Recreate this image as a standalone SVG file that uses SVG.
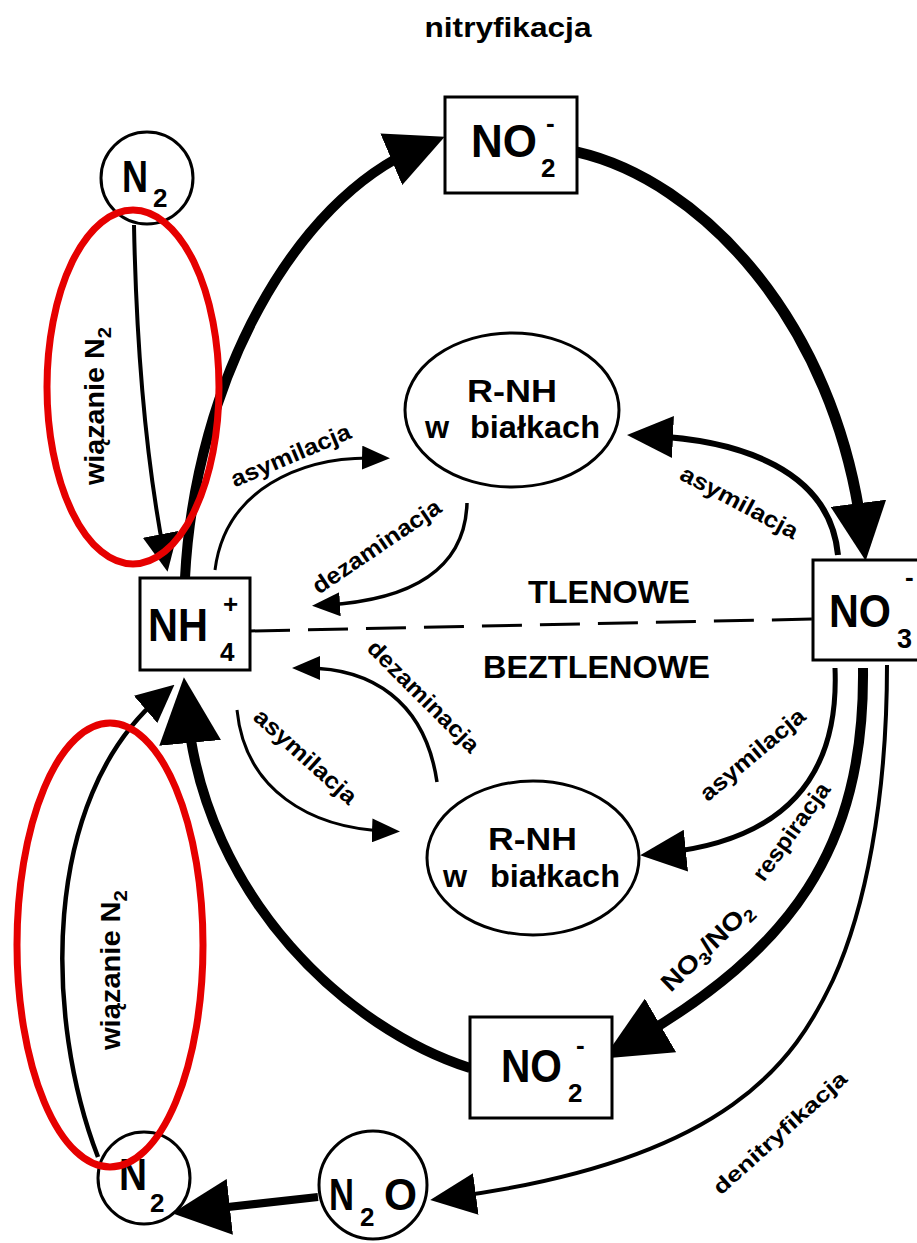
<svg xmlns="http://www.w3.org/2000/svg" width="917" height="1243" viewBox="0 0 917 1243">
<style>
.node{fill:#fff;stroke:#000;stroke-width:3}
.chem{font-family:"Liberation Sans",Arial,sans-serif;font-weight:bold;font-size:46px;fill:#000}
.sub{font-size:26px}
.prot{font-family:"Liberation Sans",Arial,sans-serif;font-weight:bold;font-size:31px;fill:#000}
.zone{font-family:"Liberation Sans",Arial,sans-serif;font-weight:bold;font-size:31px;fill:#000}
.lbl{font-family:"Liberation Sans",Arial,sans-serif;font-weight:bold;font-size:23px;fill:#000;text-anchor:middle}
.c{fill:none;stroke:#000}
.red{fill:none;stroke:#e60000;stroke-width:7}
</style>
<defs>
<marker id="mA" markerUnits="userSpaceOnUse" markerWidth="66" markerHeight="62" viewBox="0 0 66 62" refX="33" refY="31" orient="auto"><path d="M0,0 L66,31 L0,62 z"/></marker>
<marker id="mB" markerUnits="userSpaceOnUse" markerWidth="58" markerHeight="56" viewBox="0 0 58 56" refX="29" refY="28" orient="auto"><path d="M0,0 L58,28 L0,56 z"/></marker>
<marker id="mC" markerUnits="userSpaceOnUse" markerWidth="46" markerHeight="42" viewBox="0 0 46 42" refX="23" refY="21" orient="auto"><path d="M0,0 L46,21 L0,42 z"/></marker>
<marker id="mD" markerUnits="userSpaceOnUse" markerWidth="38" markerHeight="36" viewBox="0 0 38 36" refX="19" refY="18" orient="auto"><path d="M0,0 L38,18 L0,36 z"/></marker>
<marker id="mE" markerUnits="userSpaceOnUse" markerWidth="28" markerHeight="24" viewBox="0 0 28 24" refX="14" refY="12" orient="auto"><path d="M0,0 L28,12 L0,24 z"/></marker>
</defs>
<rect width="917" height="1243" fill="#fff"/>

<g id="connectors">
<path class="c" stroke-width="10" d="M185,578 C195,380 295,200 418,148" marker-end="url(#mB)"/>
<path class="c" stroke-width="11" d="M577,152 C700,180 835,320 862,532" marker-end="url(#mB)"/>
<path class="c" stroke-width="6" d="M838,555 C830,470 740,440 650,436" marker-end="url(#mC)"/>
<path class="c" stroke-width="3" d="M215,570 C225,490 300,456 376,458" marker-end="url(#mE)"/>
<path class="c" stroke-width="3.5" d="M467,503 C465,570 410,600 326,605" marker-end="url(#mE)"/>
<path class="c" stroke-width="3.5" d="M437,782 C425,700 370,668 306,668" marker-end="url(#mE)"/>
<path class="c" stroke-width="3" d="M237,710 C245,790 310,828 386,831" marker-end="url(#mE)"/>
<path class="c" stroke-width="5" d="M835,668 C840,790 770,842 663,853" marker-end="url(#mC)"/>
<path class="c" stroke-width="10" d="M863,668 C865,850 790,950 632,1042" marker-end="url(#mA)"/>
<path class="c" stroke-width="4" d="M887,665 C887,800 865,910 833,980 C795,1060 730,1160 453,1197" marker-end="url(#mC)"/>
<path class="c" stroke-width="8" d="M318,1197 L201,1210" marker-end="url(#mB)"/>
<path class="c" stroke-width="10" d="M470,1068 C350,1030 205,900 187,710" marker-end="url(#mA)"/>
<path class="c" stroke-width="4" d="M134,225 C137,380 150,480 164,553" marker-end="url(#mD)"/>
<path class="c" stroke-width="4.5" d="M98,1157 C45,1020 40,800 160,697" marker-end="url(#mD)"/>
<path class="c" stroke-width="3" stroke-dasharray="40 18" d="M250,631 L813,619"/>

<text class="lbl" style="font-size:27px" x="508" y="37" textLength="167" lengthAdjust="spacingAndGlyphs">nitryfikacja</text>
<text class="lbl" style="font-size:27px" transform="translate(104,406) rotate(-90)" textLength="158" lengthAdjust="spacingAndGlyphs">wiązanie N<tspan dy="7" style="font-size:19px">2</tspan></text>
<text class="lbl" style="font-size:27px" transform="translate(120,970) rotate(-90)" textLength="160" lengthAdjust="spacingAndGlyphs">wiązanie N<tspan dy="7" style="font-size:19px">2</tspan></text>
<text class="lbl" transform="translate(291,456) rotate(-23)" y="7" textLength="128" lengthAdjust="spacingAndGlyphs">asymilacja</text>
<text class="lbl" transform="translate(377,547) rotate(-34)" y="7" textLength="150" lengthAdjust="spacingAndGlyphs">dezaminacja</text>
<text class="lbl" transform="translate(739,503) rotate(28)" y="7" textLength="130" lengthAdjust="spacingAndGlyphs">asymilacja</text>
<text class="lbl" transform="translate(423,697) rotate(45)" y="7" textLength="148" lengthAdjust="spacingAndGlyphs">dezaminacja</text>
<text class="lbl" transform="translate(305,757) rotate(42)" y="7" textLength="130" lengthAdjust="spacingAndGlyphs">asymilacja</text>
<text class="lbl" transform="translate(753,755) rotate(-40)" y="7" textLength="130" lengthAdjust="spacingAndGlyphs">asymilacja</text>
<text class="lbl" style="font-size:25px" transform="translate(707,947) rotate(-44)" y="8" textLength="116" lengthAdjust="spacingAndGlyphs">NO<tspan dy="5" style="font-size:17px">3</tspan><tspan dy="-5">/NO</tspan><tspan dy="5" style="font-size:17px">2</tspan></text>
<text class="lbl" style="font-size:23px" transform="translate(792,832) rotate(-54)" y="7" textLength="115" lengthAdjust="spacingAndGlyphs">respiracja</text>
<text class="lbl" style="font-size:21px" transform="translate(780,1133) rotate(-42)" y="7" textLength="172" lengthAdjust="spacingAndGlyphs">denitryfikacja</text>
</g>

<g id="zones">
<text class="zone" x="528" y="603" textLength="162" lengthAdjust="spacingAndGlyphs">TLENOWE</text>
<text class="zone" x="483" y="678" textLength="227" lengthAdjust="spacingAndGlyphs">BEZTLENOWE</text>
</g>

<g id="n2-top">
<circle class="node" cx="147" cy="178" r="46"/>
<text class="chem" style="font-size:44px"><tspan x="122" y="192" textLength="26" lengthAdjust="spacingAndGlyphs">N</tspan><tspan class="sub" x="153" y="207">2</tspan></text>
</g>
<g id="no2-top">
<rect class="node" x="445" y="97" width="132" height="96"/>
<text class="chem"><tspan x="471" y="157" textLength="66" lengthAdjust="spacingAndGlyphs">NO</tspan><tspan class="sub" x="541" y="177">2</tspan><tspan class="sub" x="546" y="132">-</tspan></text>
</g>
<g id="nh4">
<rect class="node" x="140" y="578" width="110" height="92"/>
<text class="chem"><tspan x="148" y="641" textLength="60" lengthAdjust="spacingAndGlyphs">NH</tspan><tspan class="sub" x="223" y="613">+</tspan><tspan class="sub" x="220" y="661">4</tspan></text>
</g>
<g id="no3">
<rect class="node" x="813" y="560" width="120" height="100"/>
<text class="chem" style="font-size:46px"><tspan x="829" y="627" textLength="62" lengthAdjust="spacingAndGlyphs">NO</tspan><tspan class="sub" style="font-size:27px" x="897" y="648">3</tspan><tspan class="sub" x="905" y="586">-</tspan></text>
</g>
<g id="rnh-upper">
<ellipse class="node" cx="512" cy="410" rx="107" ry="77"/>
<text class="prot" x="467" y="402" textLength="90" lengthAdjust="spacingAndGlyphs">R-NH</text>
<text class="prot" x="425" y="438">w <tspan x="470" textLength="130" lengthAdjust="spacingAndGlyphs">białkach</tspan></text>
</g>
<g id="rnh-lower">
<ellipse class="node" cx="533" cy="858" rx="106" ry="77"/>
<text class="prot" x="488" y="850" textLength="89" lengthAdjust="spacingAndGlyphs">R-NH</text>
<text class="prot" x="443" y="887">w <tspan x="490" textLength="130" lengthAdjust="spacingAndGlyphs">białkach</tspan></text>
</g>
<g id="no2-bottom">
<rect class="node" x="470" y="1017" width="142" height="101"/>
<text class="chem"><tspan x="501" y="1082" textLength="61" lengthAdjust="spacingAndGlyphs">NO</tspan><tspan class="sub" x="568" y="1102">2</tspan><tspan class="sub" x="576" y="1054">-</tspan></text>
</g>
<g id="n2o">
<circle class="node" cx="373" cy="1185" r="54"/>
<text class="chem" style="font-size:44px"><tspan x="329" y="1210" textLength="25" lengthAdjust="spacingAndGlyphs">N</tspan><tspan class="sub" x="360" y="1226">2</tspan><tspan x="384" y="1210" textLength="33" lengthAdjust="spacingAndGlyphs">O</tspan></text>
</g>
<g id="n2-bottom">
<circle class="node" cx="144" cy="1178" r="46"/>
<text class="chem" style="font-size:44px"><tspan x="119" y="1190" textLength="28" lengthAdjust="spacingAndGlyphs">N</tspan><tspan class="sub" x="150" y="1212">2</tspan></text>
</g>

<g id="highlights">
<ellipse class="red" cx="133" cy="387" rx="86" ry="177"/>
<ellipse class="red" cx="110" cy="945" rx="93" ry="222"/>
</g>
</svg>
